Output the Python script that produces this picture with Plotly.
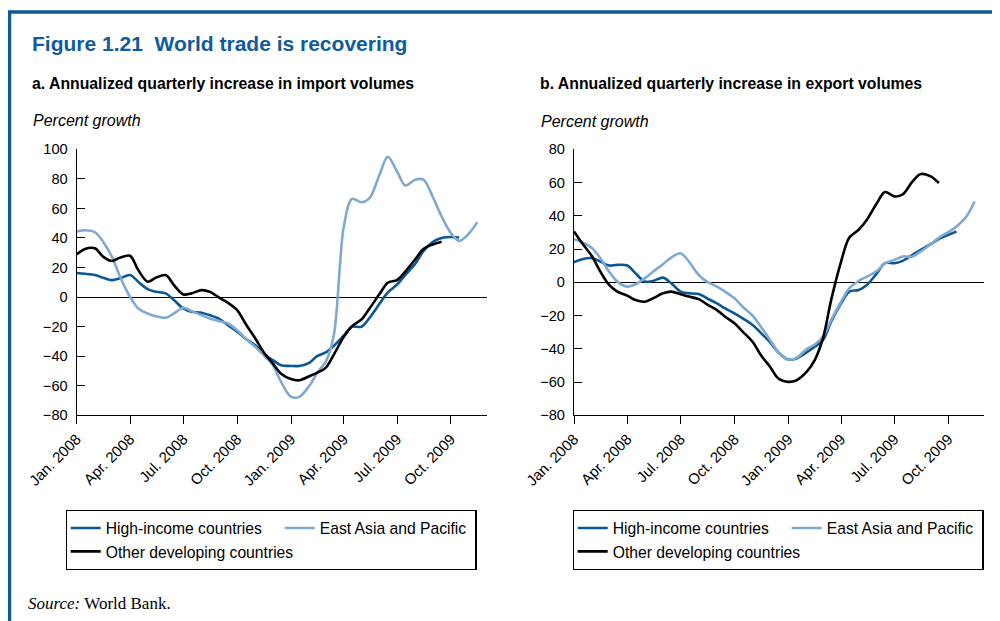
import pandas as pd
import plotly.graph_objects as go

# ---------------- data (semi-monthly readings, percent growth) ----------------
quarter_ticks = ["2008-01-01", "2008-04-01", "2008-07-01", "2008-10-01",
                 "2009-01-01", "2009-04-01", "2009-07-01", "2009-10-01"]
quarter_labels = ["Jan. 2008", "Apr. 2008", "Jul. 2008", "Oct. 2008",
                  "Jan. 2009", "Apr. 2009", "Jul. 2009", "Oct. 2009"]

series_names = ["High-income countries", "East Asia and Pacific", "Other developing countries"]

# a. imports
hi_imports = [16.3, 15.8, 14.9, 13.1, 11.5, 12.7, 14.9, 10.4, 5.4, 3.6, 2.5, -2.0,
              -7.7, -10.0, -10.6, -12.2, -14.9, -19.0, -23.5, -28.0, -32.6, -38.2, -42.7, -46.1,
              -46.6, -46.6, -44.5, -39.8, -37.5, -33.0, -26.0, -20.1, -20.1, -14.0, -4.5, 3.0,
              8.5, 15.0, 22.5, 31.0, 37.5, 40.0, 40.7, 40.3]
ea_imports = [44.3, 45.2, 43.9, 37.5, 27.4, 13.8, 0.2, -7.7, -11.1, -12.9, -14.0, -11.1,
              -7.2, -9.5, -12.2, -14.5, -16.3, -17.9, -22.4, -28.0, -33.7, -39.3, -46.1, -57.4,
              -67.5, -67.5, -60.2, -51.0, -43.9, -25.8, 47.7, 66.5, 64.2, 67.0, 82.8, 95.0,
              85.0, 75.5, 79.4, 79.5, 66.9, 54.5, 43.2, 38.0, 43.2, 50.7]
od_imports = [28.9, 32.6, 33.0, 27.4, 24.4, 26.7, 28.0, 18.3, 10.4, 13.1, 14.9, 8.1,
              1.8, 2.5, 4.7, 3.6, -0.5, -3.8, -8.8, -17.9, -28.0, -37.1, -45.0, -51.8,
              -55.5, -56.3, -53.6, -51.1, -47.9, -38.9, -26.9, -19.7, -15.2, -7.7, 2.0, 9.7,
              11.5, 17.2, 25.6, 32.6, 35.8, 37.5]

# b. exports
hi_exports = [12.1, 13.9, 14.5, 12.5, 10.1, 10.5, 10.1, 5.4, 0.4, 0.8, 2.8, -0.6,
              -5.6, -6.6, -7.0, -9.6, -12.7, -15.7, -18.7, -21.7, -25.7, -30.4, -36.2, -42.2,
              -46.5, -45.8, -42.2, -38.8, -34.8, -23.7, -12.7, -5.6, -4.6, -1.6, 5.4, 11.5,
              11.5, 12.9, 16.5, 19.5, 22.9, 26.1, 28.5, 30.6]
ea_exports = [25.9, 24.1, 20.5, 14.5, 6.4, 0.4, -2.6, -1.2, 2.4, 6.4, 10.9, 14.9,
              17.5, 12.5, 4.4, 0.4, -2.6, -5.6, -9.6, -14.7, -20.1, -26.7, -34.8, -42.2,
              -46.5, -45.5, -40.2, -37.4, -32.8, -22.7, -11.7, -3.6, 0.8, 3.4, 6.8, 11.5,
              13.5, 15.5, 15.5, 18.5, 22.9, 26.9, 30.2, 33.6, 39.6, 48.6]
od_exports = [30.6, 23.5, 15.5, 6.4, -1.6, -5.6, -8.0, -10.7, -11.7, -9.6, -6.6, -5.6,
              -7.2, -8.6, -10.1, -13.3, -16.7, -20.7, -24.7, -29.7, -35.8, -43.8, -50.9, -57.9,
              -59.9, -58.9, -53.9, -46.8, -33.8, -10.7, 12.5, 26.9, 31.6, 37.6, 47.6, 54.3,
              51.7, 52.8, 60.7, 65.1, 63.7, 59.7]


def dates(n):
    return pd.date_range("2008-01-01", periods=n, freq="SMS")


# ---------------- styling ----------------
DARK = "#0a5796"
LIGHT = "#7eaad2"
BLACK = "#000000"
TITLE_BLUE = "#0f5b9d"
FONT = "Liberation Sans, Arial, Helvetica, sans-serif"
OFF = 8  # page body margin
W, H = 1000 - OFF, 621 - OFF


def px(x):
    return (x - OFF) / W


def py(y):
    return 1 - (y - OFF) / H


fig = go.Figure()

panels = [
    ("x", "y", "legend", [hi_imports, ea_imports, od_imports]),
    ("x2", "y2", "legend2", [hi_exports, ea_exports, od_exports]),
]
colors = [DARK, LIGHT, BLACK]
groups = ["g1", "g2", "g1"]
lwidths = [169, 150, 169]
for xa, ya, leg, data in panels:
    for name, vals, col, grp, lw in zip(series_names, data, colors, groups, lwidths):
        fig.add_trace(go.Scatter(
            x=dates(len(vals)), y=vals, name=name, mode="lines",
            line=dict(color=col, width=2.6, shape="spline", smoothing=0.9),
            xaxis=xa, yaxis=ya, legend=leg, legendgroup=grp, legendwidth=lw,
            hoverinfo="skip",
        ))

x_common = dict(
    type="date", range=["2008-01-01", "2009-12-01"],
    tickmode="array", tickvals=quarter_ticks, ticktext=quarter_labels,
    tickangle=-45, ticks="outside", ticklen=8, tickwidth=1.3, tickcolor="black",
    showline=True, linecolor="black", linewidth=1.3, showgrid=False, zeroline=False,
    tickfont=dict(family=FONT, size=15, color="black"), automargin=False,
)
y_common = dict(
    ticks="inside", ticklen=8, tickwidth=1.3, tickcolor="black",
    showline=True, linecolor="black", linewidth=1.3, showgrid=False,
    zeroline=True, zerolinecolor="black", zerolinewidth=1.2,
    dtick=20, tickfont=dict(family=FONT, size=14.6, color="black"),
    ticklabelstandoff=5, automargin=False,
)
ydom = [py(415.3), py(149.3)]
fig.update_layout(
    xaxis=dict(domain=[px(76.7), px(486.7)], anchor="y", **x_common),
    yaxis=dict(domain=ydom, anchor="x", range=[-80, 100], **y_common),
    xaxis2=dict(domain=[px(574), px(984)], anchor="y2", **x_common),
    yaxis2=dict(domain=ydom, anchor="x2", range=[-80, 80], **y_common),
)

legend_common = dict(
    orientation="h", traceorder="grouped", xanchor="left", yanchor="top",
    y=py(510), bordercolor="black", borderwidth=1.3, bgcolor="white",
    font=dict(family=FONT, size=15.7, color="black"), tracegroupgap=0,
)
fig.update_layout(
    legend=dict(x=px(65.7), **legend_common),
    legend2=dict(x=px(572.7), **legend_common),
)

ann = []
ann.append(dict(x=px(30), y=py(44), text="<b>Figure 1.21\u00a0\u00a0World trade is recovering</b>",
                font=dict(family=FONT, size=21, color=TITLE_BLUE)))
ann.append(dict(x=px(30), y=py(84), text="<b>a. Annualized quarterly increase in import volumes</b>",
                font=dict(family=FONT, size=15.8, color="black")))
ann.append(dict(x=px(538), y=py(84), text="<b>b. Annualized quarterly increase in export volumes</b>",
                font=dict(family=FONT, size=15.8, color="black")))
ann.append(dict(x=px(31), y=py(120), text="<i>Percent growth</i>",
                font=dict(family=FONT, size=16, color="black")))
ann.append(dict(x=px(539), y=py(122), text="<i>Percent growth</i>",
                font=dict(family=FONT, size=16, color="black")))
ann.append(dict(x=px(26), y=py(603), text="<i>Source:</i> World Bank.",
                font=dict(family="Liberation Serif, Times New Roman, serif", size=17, color="black")))
for a in ann:
    a.update(xref="paper", yref="paper", xanchor="left", yanchor="middle", showarrow=False)

fig.update_layout(
    annotations=ann,
    shapes=[dict(type="rect", xref="paper", yref="paper",
                 x0=px(9.5), x1=1.05, y0=-0.05, y1=py(12),
                 line=dict(color="#0b5a9a", width=3.5), fillcolor="rgba(0,0,0,0)", layer="above")],
    width=W, height=H, margin=dict(l=0, r=0, t=0, b=0),
    paper_bgcolor="white", plot_bgcolor="white",
    font=dict(family=FONT, color="black"),
)

fig.write_html("out.html", post_script="document.documentElement.style.overflow='hidden';")
